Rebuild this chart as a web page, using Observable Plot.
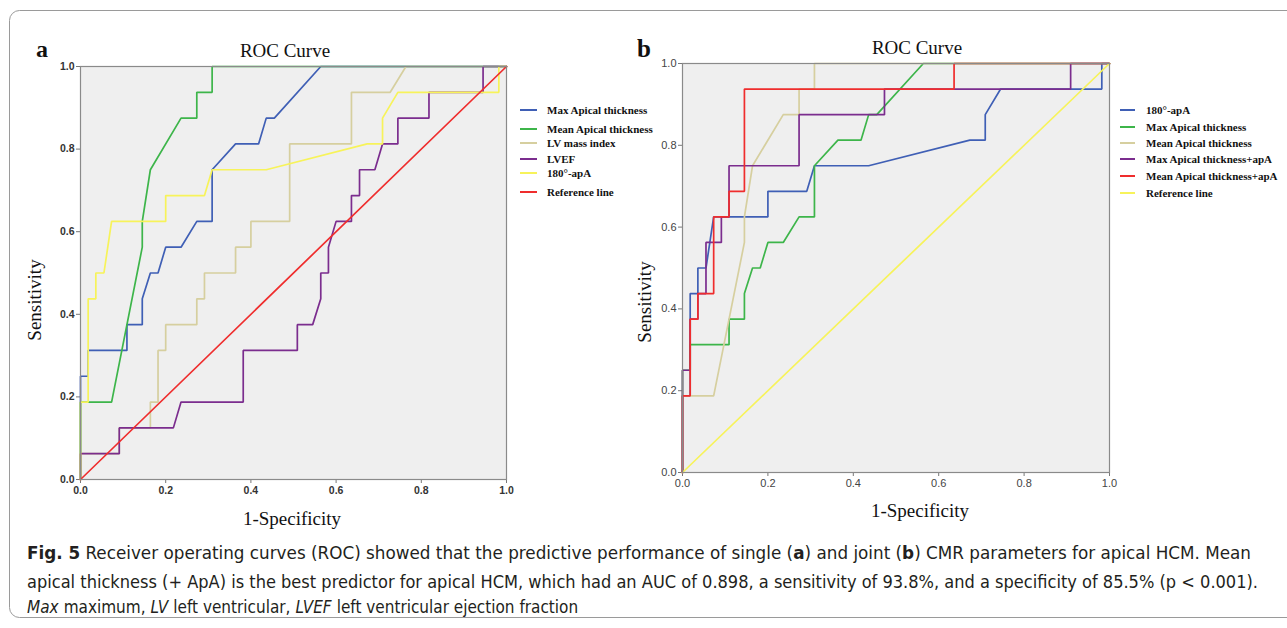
<!DOCTYPE html>
<html><head><meta charset="utf-8">
<script src="https://cdn.jsdelivr.net/npm/d3@7"></script>
<script src="https://cdn.jsdelivr.net/npm/@observablehq/plot@0.6"></script>
<style>
html,body{margin:0;padding:0;background:#fff;width:1287px;height:628px;overflow:hidden;}
#wrap{position:relative;width:1287px;height:628px;}
#wrap > svg, #wrap > div{position:absolute;}
</style></head><body><div id="wrap"></div>
<script>
// ---- data (1-specificity = fpr, sensitivity = tpr) ----
const axisTicks = [0, 0.2, 0.4, 0.6, 0.8, 1.0];

const maxApical_fpr = [0,0,0.018,0.018,0.109,0.109,0.145,0.145,0.164,0.182,0.2,0.236,0.273,0.309,0.309,0.364,0.418,0.436,0.455,0.564,1];
const maxApical_tpr = [0,0.25,0.25,0.3125,0.3125,0.375,0.375,0.4375,0.5,0.5,0.5625,0.5625,0.625,0.625,0.75,0.8125,0.8125,0.875,0.875,1,1];

const meanApical_fpr = [0,0,0.073,0.145,0.145,0.164,0.236,0.273,0.273,0.309,0.309,1];
const meanApical_tpr = [0,0.1875,0.1875,0.5625,0.625,0.75,0.875,0.875,0.9375,0.9375,1,1];

const lvMass_fpr = [0,0,0.091,0.091,0.164,0.164,0.182,0.182,0.2,0.2,0.273,0.273,0.291,0.291,0.364,0.364,0.4,0.4,0.491,0.491,0.636,0.636,0.727,0.764,1];
const lvMass_tpr = [0,0.0625,0.0625,0.125,0.125,0.1875,0.1875,0.3125,0.3125,0.375,0.375,0.4375,0.4375,0.5,0.5,0.5625,0.5625,0.625,0.625,0.8125,0.8125,0.9375,0.9375,1,1];

const lvef_fpr = [0,0,0.091,0.091,0.218,0.236,0.382,0.382,0.509,0.509,0.545,0.564,0.564,0.582,0.582,0.6,0.636,0.636,0.655,0.655,0.691,0.709,0.745,0.745,0.818,0.818,0.945,0.945,1];
const lvef_tpr = [0,0.0625,0.0625,0.125,0.125,0.1875,0.1875,0.3125,0.3125,0.375,0.375,0.4375,0.5,0.5,0.5625,0.625,0.625,0.6875,0.6875,0.75,0.75,0.8125,0.8125,0.875,0.875,0.9375,0.9375,1,1];

const apA180_fpr = [0,0,0.018,0.018,0.036,0.036,0.055,0.073,0.2,0.2,0.291,0.309,0.436,0.673,0.709,0.709,0.745,0.982,0.982,1];
const apA180_tpr = [0,0.1875,0.1875,0.4375,0.4375,0.5,0.5,0.625,0.625,0.6875,0.6875,0.75,0.75,0.8125,0.8125,0.875,0.9375,0.9375,1,1];

const maxApA_fpr = [0,0,0.018,0.018,0.036,0.036,0.055,0.055,0.091,0.091,0.109,0.109,0.273,0.273,0.473,0.473,0.909,0.909,1];
const maxApA_tpr = [0,0.25,0.25,0.375,0.375,0.4375,0.4375,0.5625,0.5625,0.625,0.625,0.75,0.75,0.875,0.875,0.9375,0.9375,1,1];

const meanApA_fpr = [0,0,0.018,0.018,0.036,0.036,0.073,0.073,0.109,0.109,0.145,0.145,0.636,0.636,1];
const meanApA_tpr = [0,0.1875,0.1875,0.375,0.375,0.4375,0.4375,0.625,0.625,0.6875,0.6875,0.9375,0.9375,1,1];

const ref_fpr = [0,1];
const ref_tpr = [0,1];

const namesA = ["Max Apical thickness","Mean Apical thickness","LV mass index","LVEF","180°-apA","Reference line"];
const colorsA = ["#3f5fb5","#3db54a","#d6cf9f","#7b2d8e","#f7f35a","#ef2d2d"];
const seriesA = [[maxApical_fpr,maxApical_tpr],[meanApical_fpr,meanApical_tpr],[lvMass_fpr,lvMass_tpr],[lvef_fpr,lvef_tpr],[apA180_fpr,apA180_tpr],[ref_fpr,ref_tpr]];

const namesB = ["180°-apA","Max Apical thickness","Mean Apical thickness","Max Apical thickness+apA","Mean Apical thickness+apA","Reference line"];
const colorsB = ["#3f5fb5","#3db54a","#d6cf9f","#7b2d8e","#ef2d2d","#f7f35a"];
const seriesB = [[apA180_fpr,apA180_tpr],[maxApical_fpr,maxApical_tpr],[meanApical_fpr,meanApical_tpr],[maxApA_fpr,maxApA_tpr],[meanApA_fpr,meanApA_tpr],[ref_fpr,ref_tpr]];

// ---- drawing ----
const wrap = document.getElementById("wrap");
function rowsOf(names, series){
  return series.flatMap(([xs, ys], k) => xs.map((x, i) => ({x, y: ys[i], name: names[k]})));
}
function panel(names, colors, series, o){
  const p = Plot.plot({
    width: o.width, height: o.height,
    marginLeft: o.ml, marginRight: o.mr, marginTop: o.mt, marginBottom: o.mb,
    x: {domain: [0, 1]}, y: {domain: [0, 1]},
    color: {domain: names, range: colors},
    style: {fontFamily: "Liberation Sans, Arial, sans-serif", background: "transparent", color: o.tickColor, overflow: "visible"},
    marks: [
      Plot.frame({fill: "#efefef", stroke: null}),
      Plot.axisX({ticks: axisTicks, tickFormat: d => d.toFixed(1), tickSize: 4, tickPadding: o.xpad, fontSize: o.fs, fontWeight: o.fw, label: null, stroke: "#777"}),
      Plot.axisY({ticks: axisTicks, tickFormat: d => d.toFixed(1), tickSize: 4, tickPadding: 2, fontSize: o.fs, fontWeight: o.fw, label: null, stroke: "#777"}),
      Plot.line(rowsOf(names, series), {x: "x", y: "y", z: "name", stroke: "name", strokeWidth: 1.7, strokeLinejoin: "miter"}),
      Plot.frame({stroke: "#8a8a8a", strokeWidth: 1.2, fill: null})
    ]
  });
  p.style.left = o.left + "px"; p.style.top = o.top + "px";
  wrap.appendChild(p);
}
panel(namesA, colorsA, seriesA, {left: 0, top: 0, width: 640, height: 540, ml: 80, mr: 134, mt: 66, mb: 61, fs: 10.5, fw: "bold", tickColor: "#333", xpad: 3});
panel(namesB, colorsB, seriesB, {left: 600, top: 0, width: 600, height: 540, ml: 82, mr: 91, mt: 63, mb: 68, fs: 11, fw: "normal", tickColor: "#444", xpad: 3});

// ---- annotations overlay ----
const NS = "http://www.w3.org/2000/svg";
const ov = document.createElementNS(NS, "svg");
ov.setAttribute("width", 1287); ov.setAttribute("height", 628);
ov.style.left = "0px"; ov.style.top = "0px";
wrap.appendChild(ov);
function el(tag, attrs, parent){
  const e = document.createElementNS(NS, tag);
  for (const k in attrs) e.setAttribute(k, attrs[k]);
  (parent || ov).appendChild(e); return e;
}
function txt(s, attrs, parent){ const e = el("text", attrs, parent); e.textContent = s; return e; }
const serif = "Liberation Serif, Times New Roman, serif";

el("rect", {x: 9.5, y: 10.5, width: 1300, height: 607, rx: 10, fill: "none", stroke: "#9a9a9a", "stroke-width": 1});

// panel a texts
txt("a", {x: 36, y: 57, "font-family": serif, "font-weight": "bold", "font-size": 24, fill: "#111"});
txt("ROC Curve", {x: 285, y: 57, "text-anchor": "middle", "font-family": serif, "font-size": 19, fill: "#111"});
txt("Sensitivity", {transform: "translate(41,300) rotate(-90)", "text-anchor": "middle", "font-family": serif, "font-size": 19, fill: "#111"});
txt("1-Specificity", {x: 292, y: 525, "text-anchor": "middle", "font-family": serif, "font-size": 19, fill: "#111"});
// panel b texts
txt("b", {x: 637, y: 57, "font-family": serif, "font-weight": "bold", "font-size": 25, fill: "#111"});
txt("ROC Curve", {x: 917, y: 54, "text-anchor": "middle", "font-family": serif, "font-size": 19, fill: "#111"});
txt("Sensitivity", {transform: "translate(651,302) rotate(-90)", "text-anchor": "middle", "font-family": serif, "font-size": 19, fill: "#111"});
txt("1-Specificity", {x: 920, y: 517, "text-anchor": "middle", "font-family": serif, "font-size": 19, fill: "#111"});

// legends
function legend(names, colors, ys, x0, x1, tx){
  names.forEach((n, i) => {
    el("line", {x1: x0, x2: x1, y1: ys[i], y2: ys[i], stroke: colors[i], "stroke-width": 2});
    txt(n, {x: tx, y: ys[i] + 4, "font-family": serif, "font-weight": "bold", "font-size": 11, fill: "#111"});
  });
}
legend(namesA, colorsA, [110,129,143,159,173,192], 520, 537, 547);
legend(namesB, colorsB, [110,127,143,159,176,193], 1120, 1135, 1146);

// caption
const capFont = "DejaVu Sans Condensed, Liberation Sans Narrow, DejaVu Sans, sans-serif";
function capLine(parts, y, len){
  const t = el("text", {x: 27, y, "font-family": capFont, "font-stretch": "condensed", "font-size": 18, fill: "#231f20", textLength: len, lengthAdjust: "spacingAndGlyphs"});
  parts.forEach(([s, st]) => {
    const sp = el("tspan", {}, t); sp.textContent = s;
    if (st === "b") sp.setAttribute("font-weight", "bold");
    if (st === "i") sp.setAttribute("font-style", "italic");
  });
}
capLine([["Fig. 5","b"],["  Receiver operating curves (ROC) showed that the predictive performance of single (",""],["a","b"],[") and joint (",""],["b","b"],[") CMR parameters for apical HCM. Mean",""]], 559, 1224);
capLine([["apical thickness (+ ApA) is the best predictor for apical HCM, which had an AUC of 0.898, a sensitivity of 93.8%, and a specificity of 85.5% (p < 0.001).",""]], 588, 1231);
// third line: separate pieces placed one after another
const line3 = [["Max","i"],["maximum,",""],["LV","i"],["left ventricular,",""],["LVEF","i"],["left ventricular ejection fraction",""]];
let cx = 27;
line3.forEach(([s, st]) => {
  const t = txt(s, {x: cx, y: 613, "font-family": capFont, "font-stretch": "condensed", "font-size": 17, fill: "#231f20"});
  if (st === "i") t.setAttribute("font-style", "italic");
  cx += t.getComputedTextLength() + 5;
});
</script></body></html>
